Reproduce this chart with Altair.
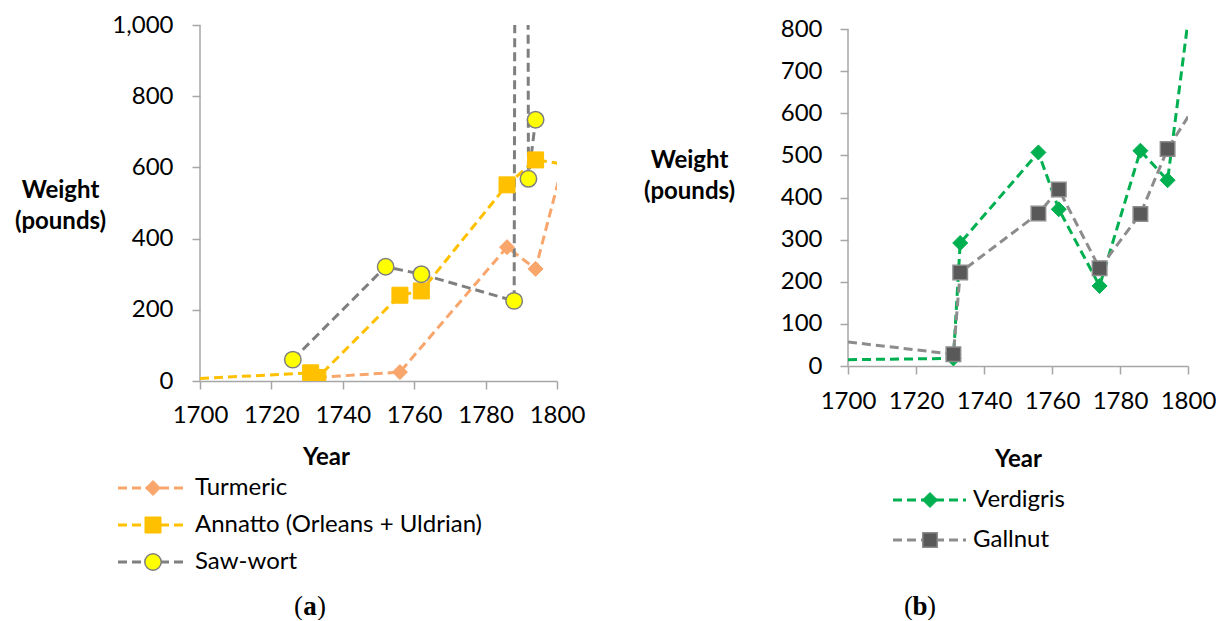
import altair as alt
import pandas as pd

FONT = "Lato"
SERIF = "Liberation Serif"
AXIS_GREY = "#A6A6A6"

# ---------------- (a) Turmeric, annatto and saw-wort ----------------
turmeric_years = [1733, 1756, 1786, 1794, 1802]
turmeric_lbs = [10, 25, 376, 315, 623]

annatto_years = [1700, 1731, 1733, 1756, 1762, 1786, 1794, 1802]
annatto_lbs = [7, 23, 10, 241, 253, 551, 621, 609]

sawwort_years = [1726, 1752, 1762, 1788, 1790, 1792, 1794]
sawwort_lbs = [60, 321, 300, 225, 10000, 568, 734]

# ---------------- (b) Verdigris and gallnut ----------------
verdigris_years = [1700, 1731, 1733, 1756, 1762, 1774, 1786, 1794, 1802]
verdigris_lbs = [15, 18, 292, 507, 372, 190, 511, 441, 945]

gallnut_years = [1700, 1731, 1733, 1756, 1762, 1774, 1786, 1794, 1802]
gallnut_lbs = [57, 28, 222, 362, 419, 232, 361, 515, 617]

x_ticks = [1700, 1720, 1740, 1760, 1780, 1800]

STYLE = {
    "Turmeric": dict(line="#F9A66C", shape="diamond", fill="#F9A66C", stroke="#F9A66C", size=225, sw=1.0),
    "Annatto (Orleans + Uldrian)": dict(line="#FFC000", shape="square", fill="#FFC000", stroke="#FFC000", size=256, sw=1.0),
    "Saw-wort": dict(line="#7F7F7F", shape="circle", fill="#FFFF00", stroke="#7F7F7F", size=270, sw=1.5),
    "Verdigris": dict(line="#00B050", shape="diamond", fill="#00B050", stroke="#00B050", size=225, sw=1.0),
    "Gallnut": dict(line="#8C8C8C", shape="square", fill="#595959", stroke="#8C8C8C", size=210, sw=1.5),
}

DASH = [9, 5]
TICK_FS = 24
TITLE_FS = 24
LEGEND_FS = 24


def make_panel(series, y_top, y_step, y_fmt, width, height, top_gap,
               y_label_pad, x_label_pad, ytitle_x, ytitle_y, xtitle_x, xtitle_y,
               legend_rows, legend_line, legend_mark, legend_text,
               caption, caption_x, caption_y, anchor=False):
    # the scale reaches a little above the last tick when top_gap > 0
    dom_top = y_top * height / (height - top_gap)

    x_enc = alt.X(
        "year:Q",
        scale=alt.Scale(domain=[1700, 1800], nice=False, zero=False),
        axis=alt.Axis(
            values=x_ticks, format="d", grid=False,
            title="Year", titleX=xtitle_x, titleY=xtitle_y,
            titleAlign="center", titleBaseline="alphabetic", titleAngle=0,
            titleFont=FONT, titleFontSize=TITLE_FS, titleFontWeight="bold", titleColor="black",
            labelFont=FONT, labelFontSize=TICK_FS, labelColor="black",
            labelPadding=x_label_pad, labelFlush=False, labelOverlap=False,
            tickSize=8, tickWidth=1.5, tickColor=AXIS_GREY,
            domainColor=AXIS_GREY, domainWidth=1.5,
        ),
    )
    y_enc = alt.Y(
        "lbs:Q",
        scale=alt.Scale(domain=[0, dom_top], nice=False, zero=False),
        axis=alt.Axis(
            values=list(range(0, y_top + 1, y_step)), format=y_fmt, grid=False,
            title=["Weight", "(pounds)"], titleX=ytitle_x, titleY=ytitle_y,
            titleAngle=0, titleAlign="center", titleBaseline="alphabetic",
            titleLineHeight=31,
            titleFont=FONT, titleFontSize=TITLE_FS, titleFontWeight="bold", titleColor="black",
            labelFont=FONT, labelFontSize=TICK_FS, labelColor="black",
            labelPadding=y_label_pad, labelOverlap=False,
            tickSize=8, tickWidth=1.5, tickColor=AXIS_GREY,
            domain=False,
        ),
    )

    inside = f"datum.year > 1700 && datum.year < 1800 && datum.lbs <= {y_top}"
    lines, marks = [], []
    for name, years, lbs in series:
        st = STYLE[name]
        base = alt.Chart(pd.DataFrame({"year": years, "lbs": lbs}))
        lines.append(
            base.mark_line(clip=True, color=st["line"], strokeWidth=3, strokeDash=DASH)
            .encode(x=x_enc, y=y_enc)
        )
        marks.append(
            base.transform_filter(inside)
            .mark_point(filled=True, opacity=1, clip=True, shape=st["shape"], size=st["size"],
                        fill=st["fill"], stroke=st["stroke"], strokeWidth=st["sw"])
            .encode(x=x_enc, y=y_enc)
        )

    # vertical axis line, ending at the last tick
    y_axis_line = (
        alt.Chart(pd.DataFrame({"k": [0]}))
        .mark_rule(color=AXIS_GREY, strokeWidth=1.5)
        .encode(x=alt.value(0), y=alt.datum(0), y2=alt.datum(y_top))
    )

    plot = alt.layer(y_axis_line, *lines, *marks)

    # legend block under the plot
    names = [s[0] for s in series]
    leg = pd.DataFrame({
        "name": names,
        "line": [STYLE[n]["line"] for n in names],
        "shape": [STYLE[n]["shape"] for n in names],
        "fill": [STYLE[n]["fill"] for n in names],
        "stroke": [STYLE[n]["stroke"] for n in names],
        "size": [STYLE[n]["size"] for n in names],
        "sw": [STYLE[n]["sw"] for n in names],
    })
    ly = alt.Y("name:N", sort=names, axis=None,
               scale=alt.Scale(type="point", domain=names, range=legend_rows, padding=0))
    lbase = alt.Chart(leg)
    leg_line = lbase.mark_rule(strokeWidth=3, strokeDash=DASH).encode(
        x=alt.value(legend_line[0]), x2=alt.value(legend_line[1]), y=ly,
        color=alt.Color("line:N", scale=None))
    leg_mark = lbase.mark_point(filled=True, opacity=1).encode(
        x=alt.value(legend_mark), y=ly,
        shape=alt.Shape("shape:N", scale=None),
        fill=alt.Fill("fill:N", scale=None),
        stroke=alt.Stroke("stroke:N", scale=None),
        size=alt.Size("size:Q", scale=None),
        strokeWidth=alt.StrokeWidth("sw:Q", scale=None))
    leg_text = lbase.mark_text(align="left", baseline="middle", font=FONT, fontSize=LEGEND_FS,
                               color="black").encode(
        x=alt.value(legend_text), y=ly, text="name:N")

    # panel caption "(x)" with a bold letter
    one = pd.DataFrame({"k": [0]})
    cap_kw = dict(font=SERIF, fontSize=27, color="black", baseline="alphabetic")
    cap = [
        alt.Chart(one).mark_text(text="(", align="right", **cap_kw)
        .encode(x=alt.value(caption_x - 7), y=alt.value(caption_y)),
        alt.Chart(one).mark_text(text=caption, align="center", fontWeight="bold", **cap_kw)
        .encode(x=alt.value(caption_x), y=alt.value(caption_y)),
        alt.Chart(one).mark_text(text=")", align="left", **cap_kw)
        .encode(x=alt.value(caption_x + 7), y=alt.value(caption_y)),
    ]

    extras = [leg_line, leg_mark, leg_text, *cap]
    if anchor:
        # invisible mark pinning the top-left corner of the canvas
        extras.append(
            alt.Chart(one).mark_rule(strokeOpacity=0)
            .encode(x=alt.value(-200), x2=alt.value(-199), y=alt.value(-25), y2=alt.value(-24))
        )
    legend = alt.layer(*extras)

    return (
        alt.layer(plot, legend)
        .resolve_scale(y="independent")
        .properties(width=width, height=height)
    )


left = make_panel(
    [("Turmeric", turmeric_years, turmeric_lbs),
     ("Annatto (Orleans + Uldrian)", annatto_years, annatto_lbs),
     ("Saw-wort", sawwort_years, sawwort_lbs)],
    y_top=1000, y_step=200, y_fmt=",d", width=357, height=356, top_gap=0,
    y_label_pad=19, x_label_pad=14, ytitle_x=-140, ytitle_y=172, xtitle_x=126, xtitle_y=83,
    legend_rows=[463, 537], legend_line=(-82, -12), legend_mark=-47, legend_text=-5,
    caption="a", caption_x=110, caption_y=590, anchor=True,
)

right = make_panel(
    [("Verdigris", verdigris_years, verdigris_lbs),
     ("Gallnut", gallnut_years, gallnut_lbs)],
    y_top=800, y_step=100, y_fmt="d", width=340, height=341, top_gap=4,
    y_label_pad=18, x_label_pad=15, ytitle_x=-159, ytitle_y=142, xtitle_x=170, xtitle_y=100,
    legend_rows=[475, 515], legend_line=(45, 118), legend_mark=82, legend_text=125,
    caption="b", caption_x=72, caption_y=590,
)

chart = (
    alt.hconcat(left, right, spacing=291, bounds="flush")
    .properties(padding=0, background="white")
    .configure_view(stroke=None)
)

chart.save("out.html", embed_options={"renderer": "svg", "actions": False})
